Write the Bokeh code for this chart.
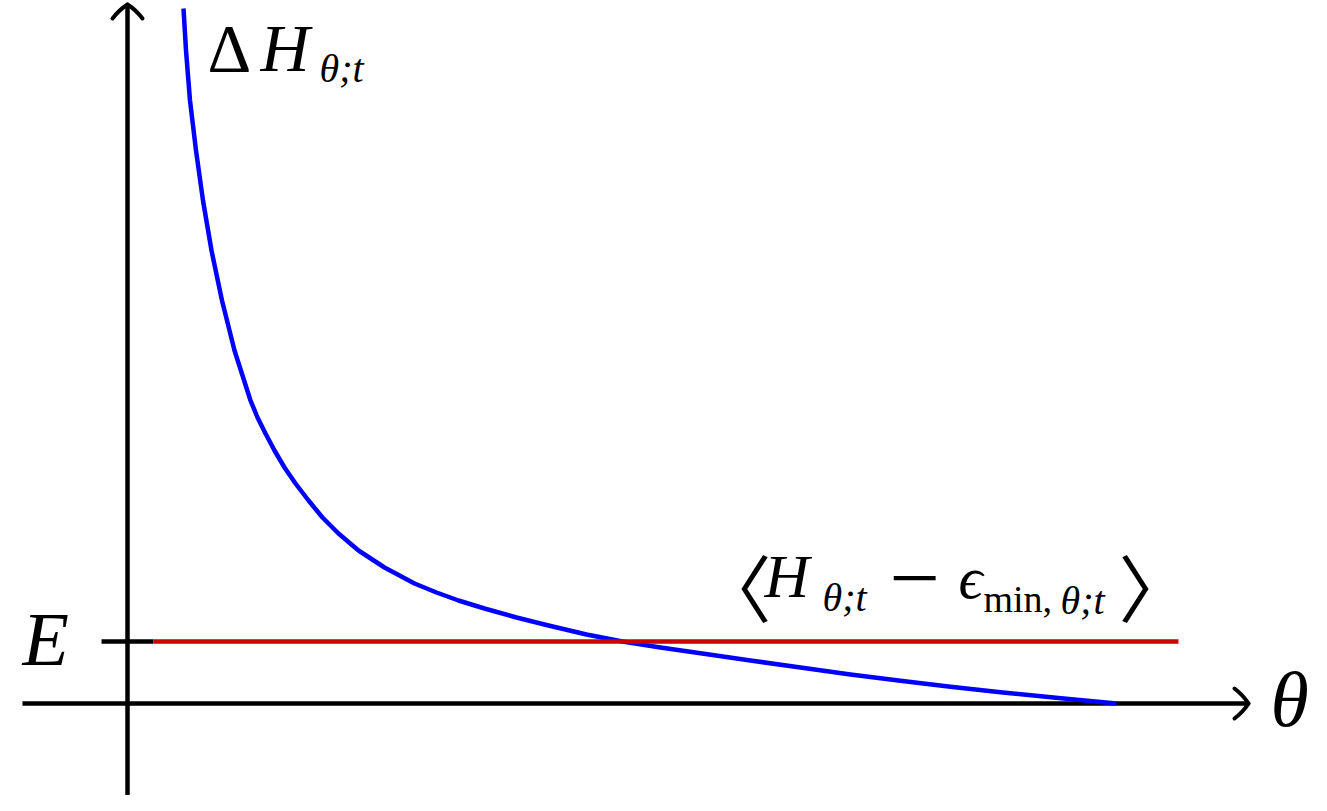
from bokeh.plotting import figure
from bokeh.models import Range1d, Label
from bokeh.embed import file_html
from bokeh.resources import INLINE

# ---- data (theta, Delta H), origin at the axis crossing ----
curve_theta = [56, 58.5, 62.5, 68.5, 75.5, 84, 94.5, 107, 123, 130, 138, 147, 157, 168, 181, 195,
               211, 231, 257, 287, 309, 331, 357, 389, 421, 459, 495, 533, 573, 623, 673, 723,
               773, 823, 873, 931, 989]
curve_dH = [695, 653, 603, 553, 503, 453, 403, 353, 303, 286, 270, 253, 236, 220, 203, 186,
            170, 153, 136, 120, 111, 103, 95, 86, 78, 69, 62, 56, 50.3, 43, 36, 29,
            22.7, 16.7, 11.2, 5.4, 0]
E_level = 62
E_theta = [26, 1051]
x_axis_ext = [-105, 1121]
y_axis_ext = [-102, 699]
tick_ext = [-26, 26]

W, H = 1311, 795
X0, Y0 = 127, 703  # pixel position of the origin

p = figure(width=W, height=H, x_range=Range1d(-X0, W - X0), y_range=Range1d(Y0 - H, Y0),
           output_backend="svg", toolbar_location=None, min_border=0,
           x_axis_location=None, y_axis_location=None)
p.grid.visible = False
p.outline_line_color = None
p.background_fill_color = "white"
p.border_fill_color = "white"

LW = 4.5
# axes
p.segment(x0=[x_axis_ext[0]], y0=[0], x1=[x_axis_ext[1]], y1=[0], line_color="black", line_width=LW)
p.segment(x0=[0], y0=[y_axis_ext[0]], x1=[0], y1=[y_axis_ext[1]], line_color="black", line_width=LW)
# tick at E
p.segment(x0=[tick_ext[0]], y0=[E_level], x1=[tick_ext[1]], y1=[E_level], line_color="black", line_width=LW)

# arrow heads (curved, TikZ-like)
hl, hw, cl, cw = 14, 15, 5, 8
tx, ty = x_axis_ext[1], 0
p.quadratic(x0=[tx, tx], y0=[ty, ty], x1=[tx - hl, tx - hl], y1=[ty + hw, ty - hw],
            cx=[tx - cl, tx - cl], cy=[ty + cw, ty - cw], line_color="black", line_width=4, line_cap="round")
tx, ty = 0, y_axis_ext[1]
p.quadratic(x0=[tx, tx], y0=[ty, ty], x1=[tx + hw, tx - hw], y1=[ty - hl, ty - hl],
            cx=[tx + cw, tx - cw], cy=[ty - cl, ty - cl], line_color="black", line_width=4, line_cap="round")

# curves
p.line(curve_theta, curve_dH, line_color="#0000ff", line_width=LW, line_join="round")
p.segment(x0=[E_theta[0]], y0=[E_level], x1=[E_theta[1]], y1=[E_level], line_color="#cc0000", line_width=LW)

SERIF = "Liberation Serif"
K = 0.37  # empirical shift of Label's alphabetic baseline


def lab(txt, px, base, size, italic=True, font=SERIF):
    py = base - K * size
    p.add_layout(Label(x=px - X0, y=Y0 - py, x_units="data", y_units="data", text=txt,
                       text_font=font, text_font_size=f"{size}px",
                       text_font_style="italic" if italic else "normal",
                       text_baseline="alphabetic", text_align="left", text_color="black"))


# Delta H_{theta;t}
lab("Δ", 207, 73, 68, italic=False)
lab("H", 260, 73, 68)
lab("θ;t", 319, 83, 40)

# < H_{theta;t} - eps_{min,theta;t} >
lab("〈", 698, 612, 73, italic=False, font="Noto Sans CJK JP")
lab("H", 764, 598, 62)
lab("θ;t", 822, 612, 40)
lab("−", 889, 611, 90, italic=False)
lab("ϵ", 958, 600, 60)
lab("min,", 983, 613, 38, italic=False)
lab("θ;t", 1060, 615, 40)
lab("〉", 1118, 612, 73, italic=False, font="Noto Sans CJK JP")

# E and theta
lab("E", 22, 667, 76)
lab("θ", 1270, 728, 78)

open("out.html", "w").write(file_html(p, INLINE))
